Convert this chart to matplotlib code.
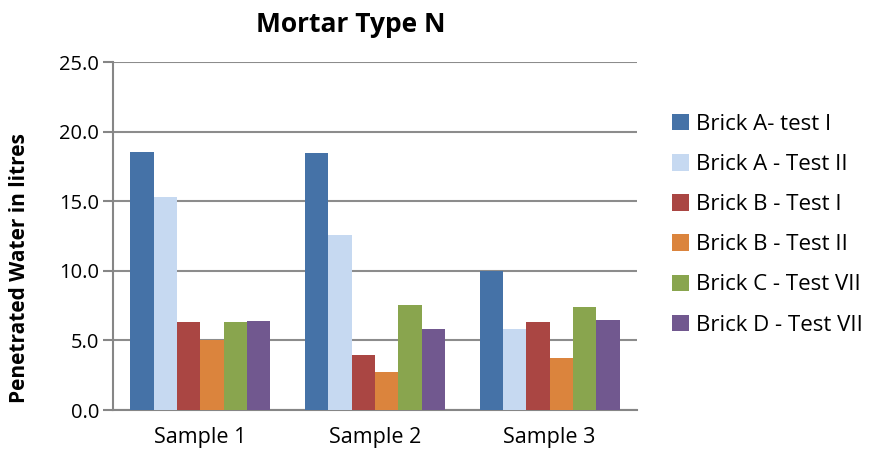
"""Mortar Type N - penetrated water per sample."""

import numpy as np
import matplotlib.pyplot as plt
from matplotlib.patches import Patch

samples = ['Sample 1', 'Sample 2', 'Sample 3']
series_names = ['Brick A- test I', 'Brick A - Test II', 'Brick B - Test I',
                'Brick B - Test II', 'Brick C - Test VII', 'Brick D - Test VII']
brick_a_1 = [18.5, 18.45, 10.0]
brick_a_2 = [15.3, 12.6, 5.85]
brick_b_1 = [6.3, 3.95, 6.3]
brick_b_2 = [5.05, 2.7, 3.7]
brick_c_7 = [6.3, 7.55, 7.4]
brick_d_7 = [6.4, 5.85, 6.5]
yticks = [0, 5, 10, 15, 20, 25]

colors = ['#4572A7', '#C6D9F1', '#AA4643', '#DB843D', '#89A54E', '#71588F']

plt.rcParams['font.family'] = ['Open Sans', 'DejaVu Sans']

fig = plt.figure(figsize=(8.73, 4.58), dpi=100)
ax = fig.add_axes([113 / 873, 48 / 458, 524 / 873, 348 / 458])

all_series = [brick_a_1, brick_a_2, brick_b_1, brick_b_2, brick_c_7, brick_d_7]
x = np.arange(len(samples))
width = 1 / 7.5
for i, (vals, c) in enumerate(zip(all_series, colors)):
    offs = (i - 2.5) * width
    ax.bar(x + offs, vals, width, color=c, zorder=3)

ax.set_xlim(-0.5, len(samples) - 0.5)
ax.set_ylim(0, 25)
ax.set_yticks(yticks)
ax.set_yticklabels([f'{v:.1f}' for v in yticks], fontsize=14.5)
ax.set_xticks(x)
ax.set_xticklabels(samples, fontsize=15.5)
ax.tick_params(axis='x', length=0, pad=12)
ax.tick_params(axis='y', length=7, width=1.5, color='#868686', pad=3)
ax.grid(axis='y', color='#8c8c8c', linewidth=1.5, zorder=0)
for s in ['top', 'right']:
    ax.spines[s].set_visible(False)
for s in ['left', 'bottom']:
    ax.spines[s].set_color('#868686')
    ax.spines[s].set_linewidth(1.5)

ax.set_ylabel('Penetrated Water in litres', fontsize=15, fontweight='bold')
ax.yaxis.set_label_coords((30 - 113) / 524, (410 - 268) / 348)

fig.text(351 / 873, 1 - 25 / 458, 'Mortar Type N', ha='center', va='center',
         fontsize=19, fontweight='bold')

handles = [Patch(facecolor=c, edgecolor='none') for c in colors]
fig.legend(handles, series_names, loc='upper left', bbox_to_anchor=(672 / 873, 1 - 114 / 458),
           frameon=False, fontsize=16, handlelength=0.75, handleheight=0.75,
           handletextpad=0.35, labelspacing=0.86, borderpad=0, borderaxespad=0)

fig.savefig('out.png', dpi=100)
